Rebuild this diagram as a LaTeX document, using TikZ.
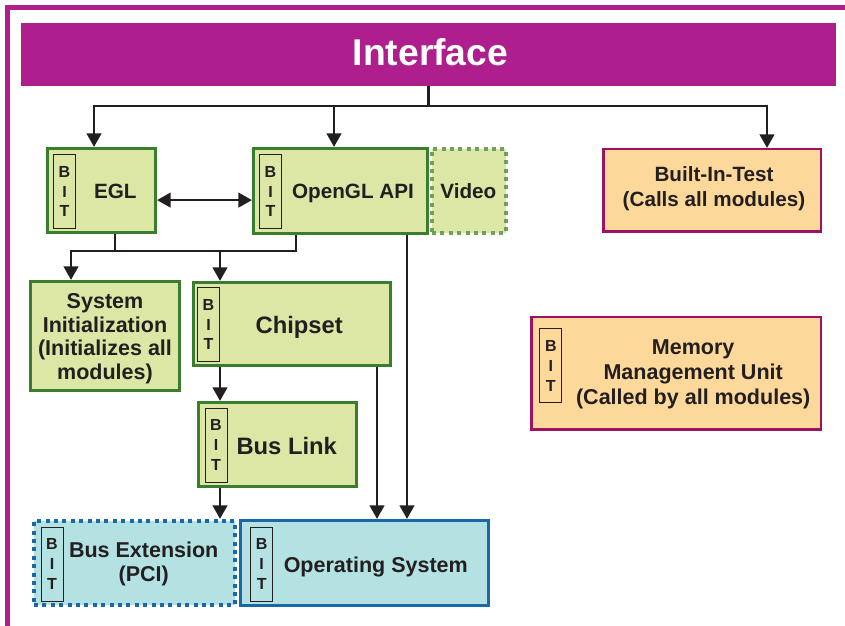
\documentclass[tikz,border=0pt]{standalone}
\usepackage{fontspec}
\setmainfont{Liberation Sans}
\usetikzlibrary{arrows.meta,calc}

\definecolor{ifacepurple}{RGB}{174,31,141}
\definecolor{gfill}{RGB}{220,230,165}
\definecolor{gborder}{RGB}{56,126,44}
\definecolor{gdot}{RGB}{112,160,88}
\definecolor{ofill}{RGB}{253,216,155}
\definecolor{oborder}{RGB}{160,18,96}
\definecolor{bfill}{RGB}{180,225,225}
\definecolor{bborder}{RGB}{24,104,170}
\definecolor{ink}{RGB}{35,31,32}

\begin{document}
\begin{tikzpicture}[
    gbox/.style={rectangle, draw=gborder, fill=gfill, line width=0.075cm, inner sep=0pt},
    gdots/.style={rectangle, draw=gdot, fill=gfill, line width=0.1cm, dash pattern=on 0.1cm off 0.11cm, inner sep=0pt},
    obox/.style={rectangle, draw=oborder, fill=ofill, line width=0.0625cm, inner sep=0pt},
    bbox/.style={rectangle, draw=bborder, fill=bfill, line width=0.075cm, inner sep=0pt},
    bdots/.style={rectangle, draw=bborder, fill=bfill, line width=0.1cm, dash pattern=on 0.1cm off 0.11cm, inner sep=0pt},
    bit/.style={rectangle, draw=ink, line width=0.7pt, minimum width=0.55cm, minimum height=1.85cm, inner sep=0pt, align=center, text=ink, font=\fontsize{11.4}{14.2}\selectfont\bfseries},
    txt/.style={inner sep=0pt, text=ink, align=center, font=\fontsize{15.3}{17.5}\selectfont\bfseries},
    small/.style={txt, font=\fontsize{14.7}{18}\selectfont\bfseries},
    big/.style={txt, font=\fontsize{16.9}{19}\selectfont\bfseries},
    wire/.style={draw=ink, line width=0.07cm},
    arrow/.style={wire, -{Triangle[width=0.36cm,length=0.34cm]}}
]
\useasboundingbox (0,0) rectangle (21.125,15.65);

% frame
\draw[ifacepurple, line width=0.125cm] (0.1875,0) -- (0.1875,15.4625) -- (21.125,15.4625);

% INTERFACE
\node[rectangle, fill=ifacepurple, minimum width=20.375cm, minimum height=1.575cm, inner sep=0pt] (iface) at (10.7125,14.2875) {};
\node[anchor=base, inner sep=0pt, text=white, font=\fontsize{26.5}{30}\selectfont\bfseries] (ifacetxt) at (10.7625,14.0) {Interface};

% top row
\node[gbox, minimum width=2.7cm, minimum height=2.1cm] (egl) at (2.5375,10.8875) {};
\node[gbox, minimum width=4.35cm, minimum height=2.125cm] (opengl) at (8.5125,10.875) {};
\node[gdots, minimum width=1.85cm, minimum height=2.1cm] (video) at (11.725,10.875) {};
\node[obox, minimum width=5.4375cm, minimum height=2.0625cm] (bitest) at (17.8,10.8875) {};

\node[bit] (eglbit) at (1.6125,10.8625) {B\\I\\T};
\node[bit] (openglbit) at (6.7625,10.8625) {B\\I\\T};
\node[small, anchor=base] (egltxt) at (2.8825,10.675) {EGL};
\node[small, anchor=base] (opengltxt) at (8.825,10.675) {OpenGL API};
\node[small, anchor=base] (videotxt) at (11.71,10.675) {Video};
\node[small] (bitesttxt) at (17.85,10.93) {Built-In-Test\\(Calls all modules)};

% memory management
\node[obox, minimum width=7.2375cm, minimum height=2.8125cm] (mmu) at (16.9,6.3125) {};
\node[bit] (mmubit) at (13.77,6.505) {B\\I\\T};
\node[txt, font=\fontsize{15.3}{17.8}\selectfont\bfseries] (mmutxt) at (17.33,6.3) {Memory\\Management Unit\\(Called by all modules)};

% middle row
\node[gbox, minimum width=3.725cm, minimum height=2.725cm] (sysinit) at (2.625,7.25) {};
\node[txt, font=\fontsize{15.3}{16.9}\selectfont\bfseries] (sysinittxt) at (2.625,7.18) {System\\Initialization\\(Initializes all\\modules)};
\node[gbox, minimum width=4.925cm, minimum height=2.075cm] (chipset) at (7.3,7.55) {};
\node[bit] (chipsetbit) at (5.2125,7.5375) {B\\I\\T};
\node[big, anchor=base] (chipsettxt) at (7.48,7.3075) {Chipset};

\node[gbox, minimum width=3.95cm, minimum height=2.1cm] (buslink) at (6.9375,4.5375) {};
\node[bit] (buslinkbit) at (5.4,4.52) {B\\I\\T};
\node[big, anchor=base] (buslinktxt) at (7.1675,4.275) {Bus Link};

% bottom row
\node[bdots, minimum width=5.025cm, minimum height=2.1cm] (busext) at (3.3625,1.575) {};
\node[bit] (busextbit) at (1.3,1.545) {B\\I\\T};
\node[txt, font=\fontsize{15.3}{17}\selectfont\bfseries] (busexttxt) at (3.5925,1.545) {Bus Extension\\(PCI)};
\node[bbox, minimum width=6.2cm, minimum height=2.125cm] (os) at (9.1125,1.575) {};
\node[bit] (osbit) at (6.5425,1.545) {B\\I\\T};
\node[txt, anchor=base] (ostxt) at (9.395,1.3425) {Operating System};

% junction points
\coordinate (ta) at (2.35,13);
\coordinate (tb) at (8.35,13);
\coordinate (tc) at (19.175,13);
\coordinate (j0) at (2.875,9.375);
\coordinate (j1) at (1.775,9.375);
\coordinate (j2) at (5.5,9.375);
\coordinate (j3) at (7.4,9.375);

% arrows from the interface
\draw[arrow] (iface.south) |- (ta) -- (ta |- egl.north);
\draw[arrow] (iface.south) |- (tc) -- (tc |- bitest.north);
\draw[arrow] (tb) -- (tb |- opengl.north);

% EGL <-> OpenGL
\draw[wire, {Triangle[width=0.36cm,length=0.34cm]}-{Triangle[width=0.36cm,length=0.34cm]}] ([yshift=-0.24cm]egl.east) -- ([yshift=-0.24cm]egl.east -| opengl.west);

% down to init and chipset
\draw[wire] (j0 |- egl.south) -- (j0);
\draw[arrow] (j3 |- opengl.south) |- (j1) -- (j1 |- sysinit.north);
\draw[arrow] (j2) -- (j2 |- chipset.north);

% chain to the bus
\draw[arrow] ([xshift=-1.8cm]chipset.south) -- ([xshift=-1.8cm]chipset.south |- buslink.north);
\draw[arrow] ([xshift=-1.4375cm]buslink.south) -- ([xshift=-1.4375cm]buslink.south |- busext.north);

% down to the operating system
\draw[arrow] ([xshift=2.125cm]chipset.south) -- ([xshift=2.125cm]chipset.south |- os.north);
\draw[arrow] ([xshift=1.6625cm]opengl.south) -- ([xshift=1.6625cm]opengl.south |- os.north);

\end{tikzpicture}
\end{document}
